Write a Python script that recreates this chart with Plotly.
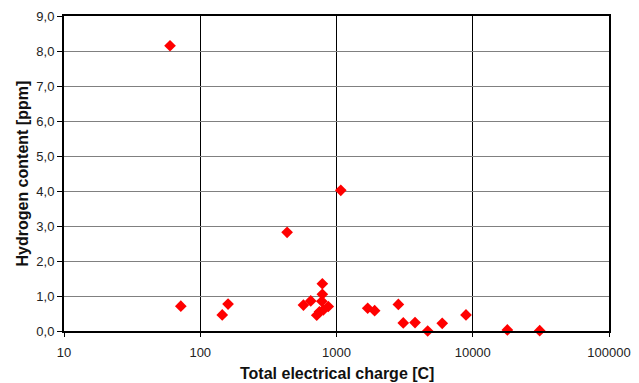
import plotly.graph_objects as go

charge_C = [60, 72, 145, 160, 434, 1075, 572, 647, 787, 787, 780, 870, 800, 750, 716,
            1694, 1905, 2845, 3090, 3770, 4670, 5970, 8920, 17950, 31000]
hydrogen_ppm = [8.15, 0.71, 0.46, 0.77, 2.82, 4.02, 0.74, 0.86, 1.35, 1.05, 0.85, 0.70, 0.60, 0.55, 0.45,
                0.65, 0.58, 0.76, 0.23, 0.24, 0.0, 0.22, 0.46, 0.03, 0.01]

x_tickvals = [10, 100, 1000, 10000, 100000]
x_ticktext = ["10", "100", "1000", "10000", "100000"]
y_tickvals = [0, 1, 2, 3, 4, 5, 6, 7, 8, 9]
y_ticktext = ["0,0", "1,0", "2,0", "3,0", "4,0", "5,0", "6,0", "7,0", "8,0", "9,0"]

fig = go.Figure()
fig.add_trace(go.Scatter(
    x=charge_C, y=hydrogen_ppm, mode="markers",
    marker=dict(symbol="diamond", size=9, color="#FF0000", line=dict(width=0)),
    showlegend=False, cliponaxis=False,
))

# page body has an 8px default margin; size the figure to fit the 639x383 window
fig.update_layout(
    width=631, height=375,
    margin=dict(l=56, r=30, t=8, b=52, autoexpand=False),
    paper_bgcolor="white", plot_bgcolor="white",
    font=dict(family="Liberation Sans, Arial, sans-serif", size=13, color="#222"),
    annotations=[
        dict(text="<b>Total electrical charge [C]</b>", xref="paper", yref="paper",
             x=0.5, y=0, yshift=-42, xanchor="center", yanchor="middle", showarrow=False,
             font=dict(size=16, color="#111")),
        dict(text="<b>Hydrogen content [ppm]</b>", xref="paper", yref="paper",
             x=0, y=0.5, xshift=-42, xanchor="center", yanchor="middle", showarrow=False,
             textangle=-90, font=dict(size=16, color="#111")),
    ],
)
fig.update_xaxes(
    type="log", range=[1, 5], automargin=False,
    tickvals=x_tickvals, ticktext=x_ticktext,
    showgrid=True, gridcolor="#000000", gridwidth=1,
    showline=True, linecolor="#000000", linewidth=2, mirror=True,
    ticks="outside", ticklen=4, tickcolor="#000", tickwidth=1,
    ticklabelstandoff=4,
    zeroline=False,
)
fig.update_yaxes(
    range=[0, 9], automargin=False,
    tickvals=y_tickvals, ticktext=y_ticktext,
    showgrid=True, gridcolor="#808080", gridwidth=1,
    showline=True, linecolor="#000000", linewidth=2, mirror=True,
    ticks="outside", ticklen=5, tickcolor="#000", tickwidth=1,
    zeroline=False,
)

fig.write_html("out.html")
